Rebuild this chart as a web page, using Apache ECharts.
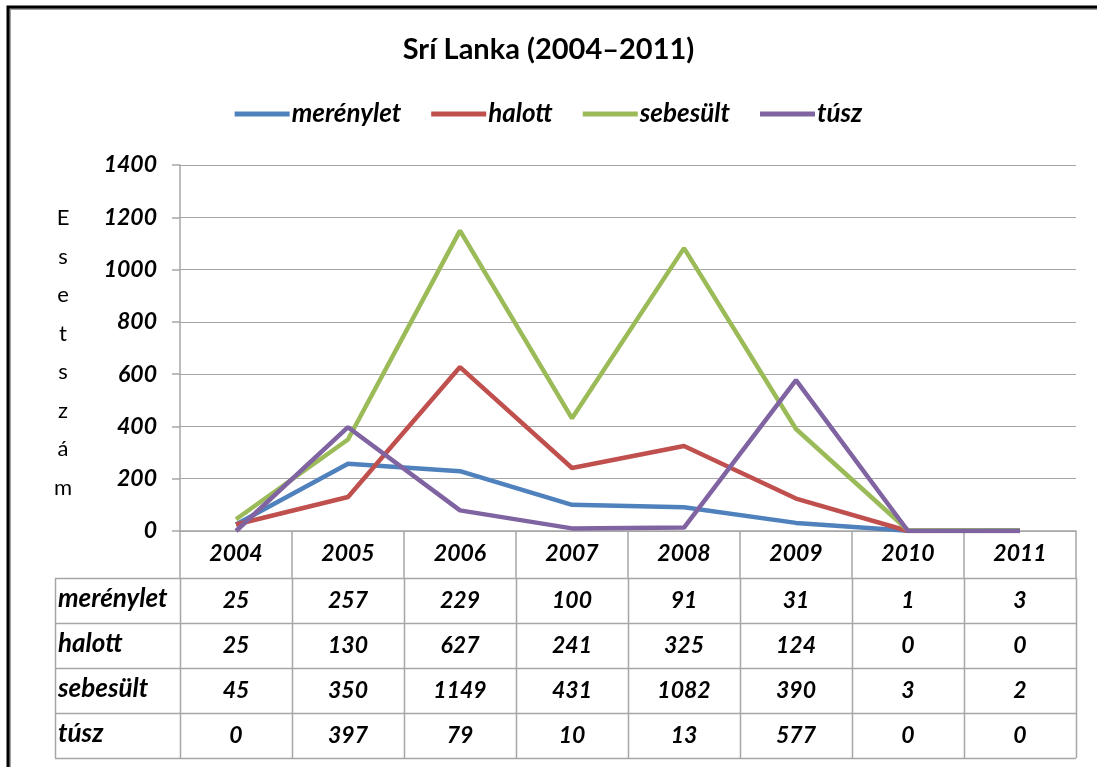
<!DOCTYPE html>
<html>
<head>
<meta charset="utf-8">
<title>Srí Lanka (2004–2011)</title>
<script src="https://cdn.jsdelivr.net/npm/echarts@6/dist/echarts.min.js"></script>
<style>
  html, body { margin: 0; padding: 0; background: #fff; }
  #chart { width: 1097px; height: 767px; }
</style>
</head>
<body>
<div id="chart"></div>
<script>
// adatok (a táblázatból)
var years = ['2004', '2005', '2006', '2007', '2008', '2009', '2010', '2011'];
var seriesNames = ['merénylet', 'halott', 'sebesült', 'túsz'];
var merenylet = [25, 257, 229, 100, 91, 31, 1, 3];
var halott = [25, 130, 627, 241, 325, 124, 0, 0];
var sebesult = [45, 350, 1149, 431, 1082, 390, 3, 2];
var tusz = [0, 397, 79, 10, 13, 577, 0, 0];
var yTicks = { min: 0, max: 1400, interval: 200 };

var colors = ['#4F81BD', '#C0504D', '#9BBB59', '#8064A2'];
var values = [merenylet, halott, sebesult, tusz];
var FONT = 'Lato, "Open Sans", sans-serif';
var GRID_COLOR = '#a6a6a6';
var NUM_SIZE = 23, TXT_SIZE = 26;

var chart = echarts.init(document.getElementById('chart'));

var option = {
  backgroundColor: '#fff',
  animation: false,
  title: {
    text: 'Srí Lanka (2004–2011)',
    left: 'center', top: 30,
    textStyle: { fontFamily: FONT, fontSize: 29, fontWeight: 'bold', color: '#000' }
  },
  legend: {
    top: 96, left: 'center',
    icon: 'rect', itemWidth: 55, itemHeight: 5, itemGap: 30,
    textStyle: { fontFamily: FONT, fontSize: TXT_SIZE, fontWeight: 'bold', fontStyle: 'italic',
                 color: '#000', padding: [0, 0, 0, -3] },
    data: seriesNames
  },
  grid: { left: 180, right: 21, top: 165, bottom: 236 },
  xAxis: {
    type: 'category', data: years, boundaryGap: true,
    axisLine: { lineStyle: { color: GRID_COLOR, width: 1.5 } },
    axisTick: { show: true, interval: 0, length: 47, lineStyle: { color: GRID_COLOR, width: 1.5 } },
    axisLabel: { margin: 11, fontFamily: FONT, fontSize: NUM_SIZE, fontWeight: 'bold',
                 fontStyle: 'italic', color: '#000' }
  },
  yAxis: {
    type: 'value', min: yTicks.min, max: yTicks.max, interval: yTicks.interval,
    axisLine: { show: true, lineStyle: { color: GRID_COLOR, width: 1.5 } },
    axisTick: { show: true, length: 8, lineStyle: { color: GRID_COLOR, width: 1.5 } },
    splitLine: { lineStyle: { color: GRID_COLOR, width: 1.2 } },
    axisLabel: { margin: 23, fontFamily: FONT, fontSize: NUM_SIZE, fontWeight: 'bold',
                 fontStyle: 'italic', color: '#000',
                 formatter: function (v) { return String(v); } }
  },
  series: seriesNames.map(function (n, i) {
    return {
      name: n, type: 'line', data: values[i],
      symbol: 'none', color: colors[i],
      lineStyle: { width: 4.5, color: colors[i] }
    };
  })
};
chart.setOption(option);

// ---- táblázat + keret + tengelycím ----
function buildGraphics() {
  var g = [];
  var x0 = chart.convertToPixel({ xAxisIndex: 0 }, years[0]);
  var x1 = chart.convertToPixel({ xAxisIndex: 0 }, years[1]);
  var bw = x1 - x0;
  var left = x0 - bw / 2;
  var right = left + bw * years.length;
  var axisY = chart.convertToPixel({ yAxisIndex: 0 }, 0);
  var rowTop = axisY + 47;
  var rowH = 45;
  var tableLeft = 55;
  var lineStyle = { stroke: GRID_COLOR, lineWidth: 1.5 };
  var txt = { fontFamily: FONT, fontWeight: 'bold', fontStyle: 'italic', fill: '#000' };

  // vízszintes vonalak
  for (var r = 0; r <= seriesNames.length; r++) {
    var y = Math.round(rowTop + r * rowH) + 0.5;
    g.push({ type: 'line', shape: { x1: tableLeft, y1: y, x2: right, y2: y }, style: lineStyle, silent: true });
  }
  // függőleges vonalak
  var bottom = rowTop + rowH * seriesNames.length;
  g.push({ type: 'line', shape: { x1: tableLeft + 0.5, y1: rowTop, x2: tableLeft + 0.5, y2: bottom }, style: lineStyle });
  for (var c = 0; c <= years.length; c++) {
    var x = Math.round(left + c * bw) + 0.5;
    g.push({ type: 'line', shape: { x1: x, y1: rowTop, x2: x, y2: bottom }, style: lineStyle });
  }
  // cellák
  seriesNames.forEach(function (n, r) {
    var cy = rowTop + r * rowH + rowH / 2;
    g.push({ type: 'text', x: tableLeft + 3, y: cy - 2,
             style: Object.assign({ text: n, align: 'left', verticalAlign: 'middle', fontSize: TXT_SIZE }, txt) });
    values[r].forEach(function (v, c) {
      g.push({ type: 'text', x: left + c * bw + bw / 2, y: cy,
               style: Object.assign({ text: String(v), align: 'center', verticalAlign: 'middle', fontSize: NUM_SIZE }, txt) });
    });
  });

  // függőleges tengelycím
  g.push({ type: 'text', x: 63, y: 199,
           style: { text: 'Esetszám'.split('').join('\n'), align: 'center', verticalAlign: 'top',
                    lineHeight: 38.5, fontFamily: FONT, fontSize: 22, fill: '#000' } });

  // külső keret
  g.push({ type: 'rect', shape: { x: 10, y: 9, width: 1300, height: 1000 },
           style: { fill: 'none', stroke: '#a0a0a0', lineWidth: 2 }, silent: true });
  g.push({ type: 'rect', shape: { x: 8, y: 7, width: 1300, height: 1000 },
           style: { fill: 'none', stroke: '#000', lineWidth: 3 }, silent: true });
  return g;
}
chart.setOption({ graphic: buildGraphics() });
</script>
</body>
</html>
